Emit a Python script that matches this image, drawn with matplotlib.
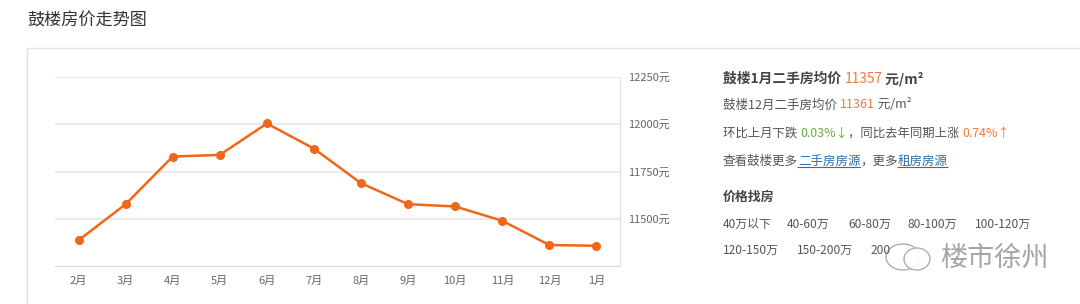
import matplotlib
matplotlib.use("Agg")
import matplotlib.pyplot as plt
from matplotlib.patches import Rectangle, Ellipse
from matplotlib.text import Annotation

plt.rcParams['font.family'] = ['Noto Sans CJK SC', 'DejaVu Sans']

# data
months = ["2月", "3月", "4月", "5月", "6月", "7月", "8月", "9月", "10月", "11月", "12月", "1月"]
prices = [11386, 11577, 11829, 11838, 12004, 11871, 11688, 11577, 11565, 11489, 11361, 11357]
yticks = [11500, 11750, 12000, 12250]
price_ranges_1 = ["40万以下", "40-60万", "60-80万", "80-100万", "100-120万"]
price_ranges_2 = ["120-150万", "150-200万", "200"]

W, H = 1080, 304
fig = plt.figure(figsize=(W / 100, H / 100), dpi=100)
fig.patch.set_facecolor("white")


def px(x, y):
    return x / W, 1 - y / H


# panel frame
fig.add_artist(Rectangle((27 / W, -0.05), 1.1, 1 - 48 / H + 0.05, transform=fig.transFigure,
                         facecolor="white", edgecolor="#e3e3e3", lw=1, zorder=-5))

fig.text(*px(27, 21), "鼓楼房价走势图", fontsize=12.3, color="#333333", va="center")

# line chart
ax = fig.add_axes([55 / W, (H - 266) / H, (620 - 55) / W, (266 - 77) / H])
ax.set_facecolor("none")
x = range(len(months))
ax.plot(x, prices, color="#f0661a", lw=1.8, marker="o", markersize=5.5, zorder=3, clip_on=False)
ax.set_xlim(-0.5, 11.5)
ax.set_ylim(11250, 12250)
ax.set_xticks(list(x))
ax.set_xticklabels(months, fontsize=8, color="#666666")
ax.yaxis.tick_right()
ax.set_yticks(yticks)
ax.set_yticklabels([f"{v}元" for v in yticks], fontsize=8, color="#666666")
ax.tick_params(axis="both", length=0)
ax.tick_params(axis="y", pad=6)
ax.tick_params(axis="x", pad=7)
ax.grid(axis="y", color="#e8e8e8", lw=1.2)
for s in ["top", "left"]:
    ax.spines[s].set_visible(False)
ax.spines["bottom"].set_color("#d8d8d8")
ax.spines["right"].set_color("#e0e0e0")
ax.set_axisbelow(True)


def rich(xp, yp, parts, size=9):
    # parts: list of (text, color, weight, underline)
    prev = None
    for s, c, w, ul in parts:
        if prev is None:
            t = fig.text(*px(xp, yp), s, fontsize=size, color=c, weight=w, va="center")
        else:
            t = Annotation(s, xy=(1, 0.5), xycoords=prev, va="center", ha="left",
                           fontsize=size, color=c, weight=w, annotation_clip=False)
            fig.add_artist(t)
        if ul:
            a = Annotation("", xy=(0, 0), xycoords=t, xytext=(1, 0), textcoords=t,
                           arrowprops=dict(arrowstyle="-", color=c, lw=0.8,
                                           shrinkA=0, shrinkB=0),
                           annotation_clip=False)
            fig.add_artist(a)
        prev = t


gray = "#555555"
orange = "#f07a3c"
green = "#6aad3c"
blue = "#2f6ea8"

rich(723, 79, [("鼓楼1月二手房均价 ", "#444444", "bold", False), ("11357", orange, "normal", False),
               (" 元/m²", "#444444", "bold", False)], size=9.9)
rich(723, 105, [("鼓楼12月二手房均价 ", gray, "normal", False), ("11361", orange, "normal", False),
                (" 元/m²", gray, "normal", False)])
rich(723, 133, [("环比上月下跌 ", gray, "normal", False), ("0.03%↓", green, "normal", False),
                ("，同比去年同期上涨 ", gray, "normal", False), ("0.74%↑", orange, "normal", False)],
     size=8.9)
rich(723, 161, [("查看鼓楼更多", gray, "normal", False), ("二手房房源", blue, "normal", True),
                ("，更多", gray, "normal", False), ("租房房源", blue, "normal", True)])

fig.text(*px(723, 197), "价格找房", fontsize=9.3, color="#444444", weight="bold", va="center")
xs1 = [723, 787, 848, 908, 975]
for xp, s in zip(xs1, price_ranges_1):
    fig.text(*px(xp, 224), s, fontsize=8.6, color=gray, va="center")
xs2 = [723, 797, 871]
for xp, s in zip(xs2, price_ranges_2):
    fig.text(*px(xp, 250), s, fontsize=8.6, color=gray, va="center")

# watermark (rough chat-bubble icon + name)
fig.add_artist(Ellipse(px(903, 257), 34 / W, 26 / H, transform=fig.transFigure,
                       facecolor="white", edgecolor="#aaaaaa", lw=1.0, alpha=0.95))
fig.add_artist(Ellipse(px(917, 259), 26 / W, 22 / H, transform=fig.transFigure,
                       facecolor="white", edgecolor="#aaaaaa", lw=1.0, alpha=0.95))
fig.text(*px(940, 258), "楼市徐州", fontsize=19.5, color="#9a9a9a", va="center", alpha=0.9)

fig.savefig("out.png", dpi=100, facecolor="white")
